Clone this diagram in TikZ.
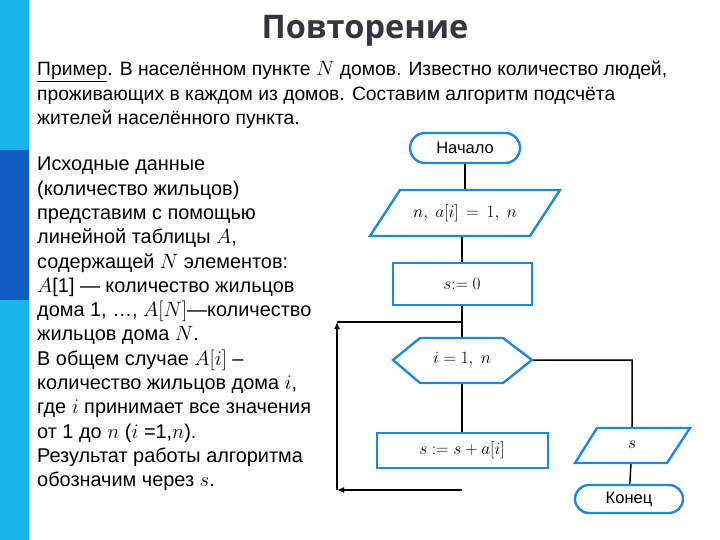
\documentclass[tikz,border=0pt]{standalone}
\usepackage{fontspec}
\setmainfont{Liberation Sans}
\newfontfamily\titlefont{Open Sans}
\usetikzlibrary{arrows.meta}
\definecolor{lightbar}{HTML}{19B4EA}
\definecolor{darkbar}{HTML}{0F5CC0}
\definecolor{fcblue}{HTML}{1E88E0}
\definecolor{titlegray}{HTML}{333640}
\begin{document}
\begin{tikzpicture}[x=1pt,y=-1pt,
  fc/.style={draw=fcblue,line width=2.4pt,fill=white},
  ln/.style={line width=1.5pt,black},
  txt/.style={inner sep=0pt,font=\fontsize{19.9}{24.3}\selectfont},
  lbl/.style={inner sep=0pt,font=\fontsize{16.5}{18}\selectfont}]
\useasboundingbox (0,0) rectangle (720,540);
\fill[white] (0,0) rectangle (720,540);
\fill[lightbar] (0,0) rectangle (29,540);
\fill[darkbar] (0,150) rectangle (29,300);
\node[inner sep=0pt,text=titlegray,font=\titlefont\bfseries\fontsize{32.5}{36}\selectfont] (title) at (365,31) {Повторение};
\node[txt,anchor=north west,align=left,font=\fontsize{19.3}{24.5}\selectfont] (intro) at (37,61) {\underline{Пример}. В населённом пункте $N$ домов. Известно количество людей,\\проживающих в каждом из домов. Составим алгоритм подсчёта\\жителей населённого пункта.};
\node[txt,anchor=north west,align=left] (left) at (37,157) {Исходные данные\\(количество жильцов)\\представим с помощью\\линейной таблицы $A$,\\содержащей $N$ элементов:\\$A$[1] — количество жильцов\\дома 1, …, $A[N]$—количество\\жильцов дома $N$.\\В общем случае $A[i]$ –\\количество жильцов дома $i$,\\где $i$ принимает все значения\\от 1 до $n$ ($i$ =1,$n$).\\Результат работы алгоритма\\обозначим через $s$.};
% connectors behind shapes
\coordinate (jtop) at (462,322);
\coordinate (ltop) at (337,322);
\coordinate (lbot) at (337,490);
\coordinate (bbot) at (462,490);
\coordinate (rc) at (632,360);
\draw[ln] (465,148) -- (465,213);
\draw[ln] (462,213) -- (462,450);
\draw[ln] (jtop) -- (ltop);
\draw[ln,-{Latex[length=7pt,width=6pt]}] (bbot) -- (lbot);
\draw[ln,-{Latex[length=7pt,width=6pt]}] (lbot) -- (ltop);
\draw[ln] (532,360) -- (rc) -- (632,445) -- (629,499);
% shapes
\draw[fc,rounded corners=15pt] (410,133) rectangle (520,163);
\node[lbl] (start) at (465,148) {Начало};
\draw[fc] (400,190) -- (560,190) -- (530,236) -- (370,236) -- cycle;
\node[lbl] (inp) at (465,213) {$n,\ a[i]\,=\,1,\ n$};
\draw[fc] (393,263) rectangle (532,305);
\node[lbl] (init) at (462,284) {$s{:}{=}\ 0$};
\draw[fc] (393,360) -- (420,338) -- (503,338) -- (532,360) -- (503,383) -- (420,383) -- cycle;
\node[lbl] (loop) at (462,360) {$i = 1,\ n$};
\draw[fc] (377,433) rectangle (548,468);
\node[lbl] (body) at (462,450) {$s\ {:}{=}\ s + a[i]$};
\draw[fc] (597,428) -- (690,428) -- (667,463) -- (575,463) -- cycle;
\node[lbl] (out) at (632,445) {$s$};
\draw[fc,rounded corners=14pt] (575,485) rectangle (683,513);
\node[lbl] (end) at (629,499) {Конец};
\end{tikzpicture}
\end{document}
